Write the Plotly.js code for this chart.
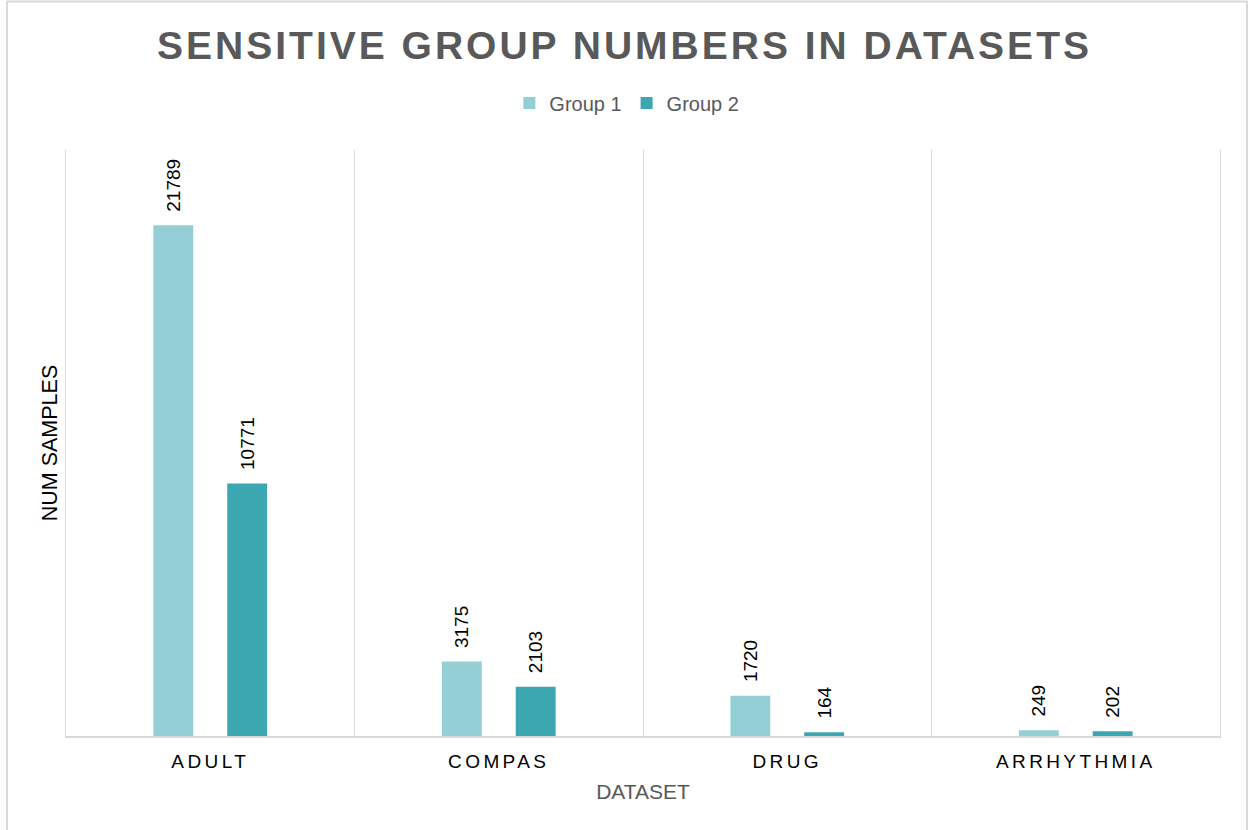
<!DOCTYPE html>
<html>
<head>
<meta charset="utf-8">
<script src="https://cdn.plot.ly/plotly-3.0.1.min.js"></script>
<style>
html, body { margin: 0; padding: 0; background: #fff; }
#chart { width: 1249px; height: 830px; }
.gtitle { letter-spacing: 3px; }
.xtick text { letter-spacing: 3.4px; }
</style>
</head>
<body>
<div id="chart"></div>
<script>
const categories = ["ADULT", "COMPAS", "DRUG", "ARRHYTHMIA"];
const group1 = [21789, 3175, 1720, 249];
const group2 = [10771, 2103, 164, 202];
const seriesNames = ["Group 1", "Group 2"];

const colors = ["#95cfd6", "#3ca7b0"];
const FONT = "Liberation Sans, Arial, sans-serif";
const labelFont = { family: FONT, size: 19, color: "#000000" };

const traces = [group1, group2].map((vals, i) => ({
  type: "bar",
  name: seriesNames[i],
  x: categories,
  y: vals,
  marker: { color: colors[i] },
  text: vals.map(v => "\u00a0\u00a0" + String(v)),
  textposition: "outside",
  textangle: -90,
  textfont: labelFont,
  constraintext: "none",
  cliponaxis: false,
  hoverinfo: "x+y+name"
}));

const layout = {
  width: 1249,
  height: 830,
  margin: { l: 66, r: 29, t: 150, b: 94 },
  paper_bgcolor: "#ffffff",
  plot_bgcolor: "#ffffff",
  barmode: "group",
  bargap: 0.488,
  bargroupgap: 0.46,
  title: {
    text: "<b>SENSITIVE GROUP NUMBERS IN DATASETS</b>",
    font: { family: FONT, size: 39, color: "#595959" },
    x: 0.5, xanchor: "center",
    y: 0.945, yanchor: "middle",
    yref: "container"
  },
  legend: {
    orientation: "h",
    x: 0.486, xanchor: "center",
    y: 1.080, yanchor: "middle",
    font: { family: FONT, size: 20, color: "#595959" },
    itemwidth: 30,
    traceorder: "normal"
  },
  xaxis: {
    type: "category",
    range: [-0.5, 3.5],
    tickson: "boundaries",
    showgrid: true,
    gridcolor: "#d9d9d9",
    gridwidth: 1,
    ticks: "",
    showline: true,
    linecolor: "#d9d9d9",
    linewidth: 2,
    ticklabelstandoff: 7,
    tickfont: { family: FONT, size: 19, color: "#000000" },
    title: {
      text: "DATASET",
      font: { family: FONT, size: 21, color: "#595959" },
      standoff: 14
    },
    automargin: false
  },
  yaxis: {
    range: [0, 25000],
    showgrid: false,
    zeroline: false,
    showticklabels: false,
    ticks: "",
    showline: true,
    mirror: true,
    linecolor: "#d9d9d9",
    linewidth: 1,
    title: {
      text: "NUM SAMPLES",
      font: { family: FONT, size: 21.5, color: "#000000" },
      standoff: 1
    },
    automargin: false
  },
  shapes: [{
    type: "rect",
    xref: "paper", yref: "paper",
    x0: -0.0511, x1: 1.0234,
    y0: -0.2, y1: 1.2534,
    line: { color: "#d9d9d9", width: 2 },
    fillcolor: "rgba(0,0,0,0)",
    layer: "below"
  }],
  showlegend: true
};

Plotly.newPlot("chart", traces, layout, { displayModeBar: false, staticPlot: true });
</script>
</body>
</html>
